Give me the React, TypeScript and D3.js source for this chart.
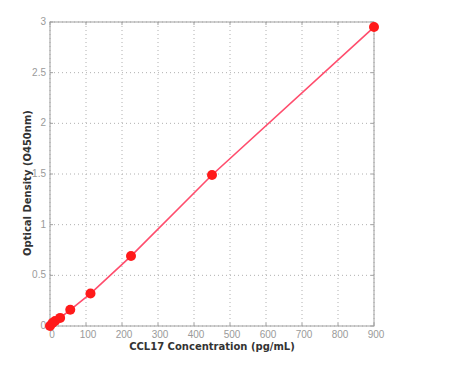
import React from "react";
import * as d3 from "d3";

const concentrations = [0, 7.03, 14.06, 28.13, 56.25, 112.5, 225, 450, 900];
const densities = [0.0, 0.03, 0.05, 0.08, 0.16, 0.32, 0.69, 1.49, 2.95];
const xTicks = [0, 100, 200, 300, 400, 500, 600, 700, 800, 900];
const yTicks = [0, 0.5, 1, 1.5, 2, 2.5, 3];
const xTitle = "CCL17 Concentration (pg/mL)";
const yTitle = "Optical Density (O450nm)";

export default function App() {
  const W = 462, H = 381;
  const left = 50, right = 374, top = 22, bottom = 326;
  const x = d3.scaleLinear().domain([0, 900]).range([left, right]);
  const y = d3.scaleLinear().domain([0, 3]).range([bottom, top]);
  const pts = concentrations.map((c, i) => [c, densities[i]] as [number, number]);
  const line = d3.line<[number, number]>().x(d => x(d[0])).y(d => y(d[1]));
  const font = "'DejaVu Sans', sans-serif";
  const tickFont = "'Liberation Sans', sans-serif";
  return (
    <svg width={W} height={H} style={{ position: "absolute", left: 0, top: 0, background: "#fff" }}>
      <rect x={0} y={0} width={W} height={H} fill="#fff" />
      {xTicks.map(t => (
        <line key={"gx" + t} x1={x(t)} x2={x(t)} y1={top} y2={bottom} stroke="#b0b0b0" strokeWidth={1} strokeDasharray="1,3" />
      ))}
      {yTicks.map(t => (
        <line key={"gy" + t} x1={left} x2={right} y1={y(t)} y2={y(t)} stroke="#b0b0b0" strokeWidth={1} strokeDasharray="1,3" />
      ))}
      <rect x={left} y={top} width={right - left} height={bottom - top} fill="none" stroke="#a0a0a0" strokeWidth={1} />
      {xTicks.map(t => (
        <g key={"tx" + t}>
          <line x1={x(t)} x2={x(t)} y1={bottom} y2={bottom - 3} stroke="#a0a0a0" />
          <line x1={x(t)} x2={x(t)} y1={top} y2={top + 3} stroke="#a0a0a0" />
          <text x={x(t) + 2} y={bottom + 12} fontSize={10} fill="#9a9a9a" textAnchor="middle" fontFamily={tickFont}>{t}</text>
        </g>
      ))}
      {yTicks.map(t => (
        <g key={"ty" + t}>
          <line x1={left} x2={left + 3} y1={y(t)} y2={y(t)} stroke="#a0a0a0" />
          <line x1={right} x2={right - 3} y1={y(t)} y2={y(t)} stroke="#a0a0a0" />
          <text x={left - 4} y={y(t) + 3} fontSize={10} fill="#9a9a9a" textAnchor="end" fontFamily={tickFont}>{t}</text>
        </g>
      ))}
      <path d={line(pts) || ""} fill="none" stroke="#ff4d6d" strokeWidth={1.6} />
      {pts.map((p, i) => (
        <circle key={"p" + i} cx={x(p[0])} cy={y(p[1])} r={5} fill="#ff1a1a" />
      ))}
      <text x={212} y={350} fontSize={10} fontWeight="bold" fill="#333" textAnchor="middle" fontFamily={font}>{xTitle}</text>
      <text transform={`translate(31,183) rotate(-90)`} fontSize={10} fontWeight="bold" fill="#333" textAnchor="middle" fontFamily={font}>{yTitle}</text>
    </svg>
  );
}
